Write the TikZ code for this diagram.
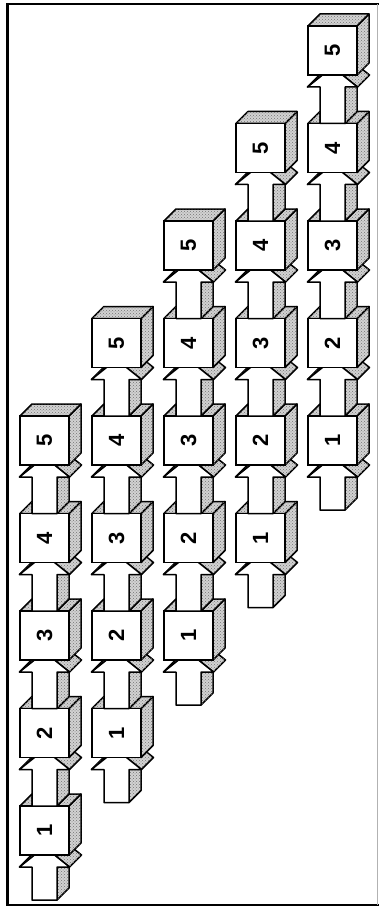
\documentclass[tikz,border=0pt]{standalone}
\usepackage{fontspec}
\setmainfont{Liberation Sans}
\usetikzlibrary{calc,patterns}
\newcommand\drawlink[2]{% #1 bottom end of shaft, #2 centre of upper cube
  \path[face] ($(#2)+(-25,36.5)$) -- ($(#2)+(0,16.5)$) -- ($(#2)+(12,4.5)$) -- ($(#2)+(-13,24.5)$) -- cycle;
  \path[face] ($(#1)+(12.5,0)$) -- ($(#1)+(24.5,-12)$) -- ($(#2)+(24.5,24.5)$) -- ($(#2)+(12.5,36.5)$) -- cycle;
  \path[face] ($(#2)+(25,36.5)$) -- ($(#2)+(37,24.5)$) -- ($(#2)+(12,4.5)$) -- ($(#2)+(0,16.5)$) -- cycle;
  \path[frontface] ($(#1)+(-12.5,0)$) -- ($(#2)+(-12.5,36.5)$) -- ($(#2)+(-25,36.5)$) -- ($(#2)+(0,16.5)$) -- ($(#2)+(25,36.5)$) -- ($(#2)+(12.5,36.5)$) -- ($(#1)+(12.5,0)$) -- cycle;
}
\newcommand\drawcube[3]{% #1 centre name, #2 label, #3 = 1 if a shaft leaves the top
  \path[face] ($(#1)+(24.5,24.5)$) -- ($(#1)+(36.5,12.5)$) -- ($(#1)+(36.5,-36.5)$) -- ($(#1)+(24.5,-24.5)$) -- cycle;
  \ifnum#3=1
    \path[face] ($(#1)+(-24.5,-24.5)$) -- ($(#1)+(-12.5,-24.5)$) -- ($(#1)+(-12.5,-36.5)$) -- cycle;
    \path[face] ($(#1)+(12.5,-24.5)$) -- ($(#1)+(24.5,-24.5)$) -- ($(#1)+(36.5,-36.5)$) -- ($(#1)+(24.5,-36.5)$) -- cycle;
  \else
    \path[face] ($(#1)+(-24.5,-24.5)$) -- ($(#1)+(24.5,-24.5)$) -- ($(#1)+(36.5,-36.5)$) -- ($(#1)+(-12.5,-36.5)$) -- cycle;
  \fi
  \node[cubefront] (f#1) at (#1) {#2};
}
\begin{document}
\begin{tikzpicture}[x=1pt,y=-1pt,
  face/.style={draw=black, line width=1.5pt, line join=round, fill=gray!35,
    postaction={pattern=crosshatch dots, pattern color=black!55}},
  frontface/.style={draw=black, line width=1.5pt, line join=round, fill=white},
  cubefront/.style={draw=black, line width=1.6pt, fill=white, minimum size=49pt,
    inner sep=0pt, rotate=90, font=\bfseries\fontsize{22}{22}\selectfont}]
\useasboundingbox (0,0) rectangle (379,912);
% frame
\draw[line width=2.2pt] (379,4) -- (7.5,4) -- (7.5,905) -- (379,905);
\draw[gray!60, line width=0.5pt] (377.5,4) -- (377.5,905);
% positions
\foreach \k in {1,...,5}{
  \foreach \n in {1,...,5}{
    \coordinate (c\k-\n) at ({44.5+72*(\k-1)}, {830.5-97.5*(\n+\k-2)});
    \coordinate (u\k-\n) at ({44.5+72*(\k-1)}, {806-97.5*(\n+\k-2)});
  }
  \coordinate (t\k) at ({44.5+72*(\k-1)}, {900-97.5*(\k-1)});
}
% drawing, bottom to top in each column
\foreach \k in {1,...,5}{
  \foreach \n in {1,...,5}{
    \ifnum\n=1
      \drawlink{t\k}{c\k-1}
    \else
      \pgfmathtruncatemacro\m{\n-1}
      \drawlink{u\k-\m}{c\k-\n}
    \fi
    \ifnum\n<5
      \drawcube{c\k-\n}{\n}{1}
    \else
      \drawcube{c\k-\n}{\n}{0}
    \fi
  }
}
\end{tikzpicture}
\end{document}
